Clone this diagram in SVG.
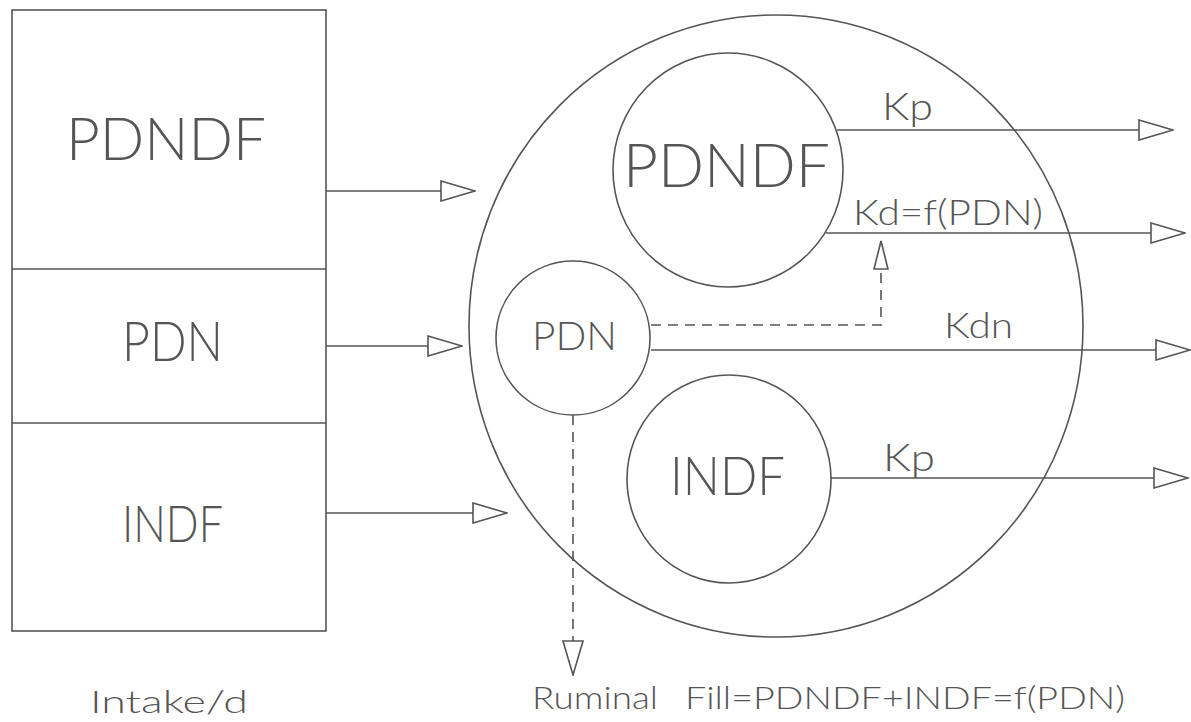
<svg xmlns="http://www.w3.org/2000/svg" width="1191" height="722" viewBox="0 0 1191 722">
  <style>
    .ln { fill: none; stroke: #555; stroke-width: 1.6; }
    .sh { fill: none; stroke: #555; stroke-width: 1.6; }
    .dash { fill: none; stroke: #555; stroke-width: 1.6; stroke-dasharray: 10 7; }
    .t { font-family: Lato, "Liberation Sans", sans-serif; font-weight: 300; fill: #555; }
  </style>
  <defs>
    <marker id="arr" viewBox="0 0 36 22" markerWidth="36" markerHeight="22" refX="35" refY="11" orient="auto" markerUnits="userSpaceOnUse">
      <path d="M1,1 L35,11 L1,21 Z" fill="#fff" stroke="#555" stroke-width="1.6"/>
    </marker>
    <marker id="arrS" viewBox="0 0 30 16" markerWidth="30" markerHeight="16" refX="29" refY="8" orient="auto" markerUnits="userSpaceOnUse">
      <path d="M1,1 L29,8 L1,15 Z" fill="#fff" stroke="#555" stroke-width="1.6"/>
    </marker>
  </defs>
  <rect width="1191" height="722" fill="#fff"/>

  <g id="intake">
    <rect class="sh" x="12" y="10" width="314" height="621"/>
    <line class="sh" x1="12" y1="269" x2="326" y2="269"/>
    <line class="sh" x1="12" y1="423" x2="326" y2="423"/>
    <text class="t" x="66" y="160" font-size="60" textLength="200" lengthAdjust="spacingAndGlyphs">PDNDF</text>
    <text class="t" x="122" y="361" font-size="56" textLength="101" lengthAdjust="spacingAndGlyphs">PDN</text>
    <text class="t" x="122" y="542" font-size="52" textLength="101" lengthAdjust="spacingAndGlyphs">INDF</text>
    <text class="t" x="90" y="713" font-size="31" textLength="158" lengthAdjust="spacingAndGlyphs">Intake/d</text>
  </g>

  <g id="rumen">
    <ellipse class="sh" cx="776" cy="326" rx="307" ry="311"/>
    <text class="t" x="532" y="709" font-size="32" textLength="126" lengthAdjust="spacingAndGlyphs">Ruminal</text>
    <text class="t" x="685" y="709" font-size="32" textLength="440" lengthAdjust="spacingAndGlyphs">Fill=PDNDF+INDF=f(PDN)</text>
  </g>

  <g id="pdndf">
    <ellipse class="sh" cx="728" cy="170" rx="115" ry="117"/>
    <text class="t" x="623" y="187" font-size="62" textLength="207" lengthAdjust="spacingAndGlyphs">PDNDF</text>
  </g>

  <g id="pdn">
    <circle class="sh" cx="573" cy="338" r="77"/>
    <text class="t" x="532" y="350" font-size="40" textLength="85" lengthAdjust="spacingAndGlyphs">PDN</text>
  </g>

  <g id="indf">
    <ellipse class="sh" cx="729" cy="479" rx="102" ry="104"/>
    <text class="t" x="670" y="495" font-size="54" textLength="115" lengthAdjust="spacingAndGlyphs">INDF</text>
  </g>

  <g id="connectors">
    <line class="ln" x1="326" y1="191" x2="475" y2="191" marker-end="url(#arr)"/>
    <line class="ln" x1="326" y1="346" x2="462" y2="346" marker-end="url(#arr)"/>
    <line class="ln" x1="326" y1="513" x2="507" y2="513" marker-end="url(#arr)"/>

    <line class="ln" x1="837" y1="130" x2="1173" y2="130" marker-end="url(#arr)"/>
    <text class="t" x="882" y="120" font-size="37" textLength="51" lengthAdjust="spacingAndGlyphs">Kp</text>

    <line class="ln" x1="826" y1="233" x2="1185" y2="233" marker-end="url(#arr)"/>
    <text class="t" x="853" y="225" font-size="35" textLength="190" lengthAdjust="spacingAndGlyphs">Kd=f(PDN)</text>

    <line class="ln" x1="651" y1="350" x2="1190" y2="350" marker-end="url(#arr)"/>
    <text class="t" x="944" y="338" font-size="35" textLength="69" lengthAdjust="spacingAndGlyphs">Kdn</text>

    <line class="ln" x1="831" y1="478" x2="1188" y2="478" marker-end="url(#arr)"/>
    <text class="t" x="883" y="471" font-size="37" textLength="52" lengthAdjust="spacingAndGlyphs">Kp</text>

    <path class="dash" d="M651,325 H881 V241" marker-end="url(#arrS)"/>
    <path class="dash" d="M573,415 V675" marker-end="url(#arr)"/>
  </g>
</svg>
